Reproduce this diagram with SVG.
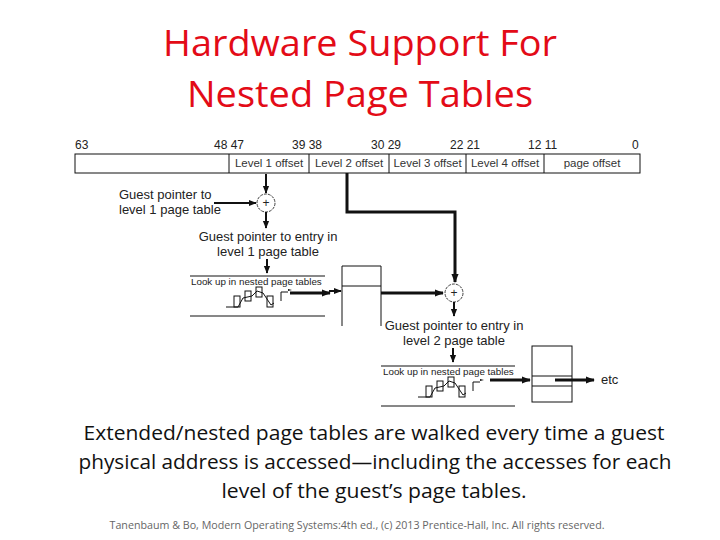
<svg xmlns="http://www.w3.org/2000/svg" width="720" height="540" viewBox="0 0 720 540">
<defs>
<style>
.title{font-family:"Open Sans","Liberation Sans",sans-serif;font-size:37px;fill:#e30b17;text-anchor:middle}
.body{font-family:"Open Sans","Liberation Sans",sans-serif;font-size:19.5px;fill:#111;text-anchor:middle}
.foot{font-family:"Open Sans","Liberation Sans",sans-serif;font-size:10.5px;fill:#666;text-anchor:middle}
.d{font-family:"Liberation Sans",Arial,sans-serif;font-size:13px;fill:#222}
.b{font-family:"Liberation Sans",Arial,sans-serif;font-size:12px;fill:#222}
.f{font-family:"Liberation Sans",Arial,sans-serif;font-size:11.5px;fill:#333;text-anchor:middle}
.s{font-family:"Liberation Sans",Arial,sans-serif;font-size:9.8px;fill:#222}
.ln{stroke:#111;stroke-width:1;fill:none}
.ar{stroke:#111;stroke-width:2;fill:none;marker-end:url(#ah)}
.thick{stroke:#111;stroke-width:3;fill:none}
.box{fill:#fff;stroke:#111;stroke-width:1}
</style>
<marker id="ah" viewBox="0 0 10 10" refX="9" refY="5" markerWidth="4" markerHeight="4" orient="auto" markerUnits="strokeWidth">
<path d="M0,1 L10,5 L0,9 z" fill="#111"/>
</marker>
<marker id="ah2" viewBox="0 0 10 10" refX="9" refY="5" markerWidth="3" markerHeight="3" orient="auto" markerUnits="strokeWidth">
<path d="M0,1 L10,5 L0,9 z" fill="#111"/>
</marker>
</defs>
<rect width="720" height="540" fill="#fff"/>

<g id="title">
<text class="title" x="360" y="56" textLength="394" lengthAdjust="spacingAndGlyphs">Hardware Support For</text>
<text class="title" x="360" y="107" textLength="346" lengthAdjust="spacingAndGlyphs">Nested Page Tables</text>
</g>

<g id="address">
<rect class="box" x="75" y="154" width="565" height="19"/>
<path class="ln" d="M229,154V173M309,154V173M389,154V173M466,154V173M544,154V173"/>
<text class="b" x="75" y="149">63</text>
<text class="b" x="214" y="149">48 47</text>
<text class="b" x="292" y="149">39 38</text>
<text class="b" x="371" y="149">30 29</text>
<text class="b" x="450" y="149">22 21</text>
<text class="b" x="528" y="149">12 11</text>
<text class="b" x="632" y="149">0</text>
<text class="f" x="269" y="167">Level 1 offset</text>
<text class="f" x="349" y="167">Level 2 offset</text>
<text class="f" x="427.5" y="167">Level 3 offset</text>
<text class="f" x="505" y="167">Level 4 offset</text>
<text class="f" x="592" y="167">page offset</text>
</g>

<g id="adder1">
<circle cx="266" cy="203" r="9" fill="#fff" stroke="#111" stroke-width="0.8" stroke-dasharray="3,1"/>
<text class="b" x="266" y="207" text-anchor="middle" font-size="11">+</text>
</g>
<g id="label1">
<text class="d" x="119" y="199">Guest pointer to</text>
<text class="d" x="119" y="214">level 1 page table</text>
<text class="d" x="268" y="241" text-anchor="middle">Guest pointer to entry in</text>
<text class="d" x="268" y="256" text-anchor="middle">level 1 page table</text>
</g>

<g id="lookup1">
<path class="ln" d="M190,276H325M190,316H325"/>
<text class="s" x="191" y="285">Look up in nested page tables</text>
<g class="ln" stroke-width="0.8">
<path d="M226,307H238L243,298L252,296L257,291L263,293L271,305L274,303M281,301V292H288"/>
<rect x="234" y="296" width="6" height="11"/>
<rect x="245" y="291" width="6" height="10"/>
<rect x="256" y="287" width="6" height="10"/>
<rect x="267" y="296" width="6" height="11"/>
</g>
<path d="M288,289L292,290L288,291z" fill="#111"/>
</g>

<g id="table1">
<path class="ln" d="M342,326V266H381V326M342,286H381"/>
</g>

<g id="adder2">
<circle cx="454" cy="293" r="9" fill="#fff" stroke="#111" stroke-width="0.8" stroke-dasharray="3,1"/>
<text class="b" x="454" y="297" text-anchor="middle" font-size="11">+</text>
</g>
<g id="label2">
<text class="d" x="454" y="330" text-anchor="middle">Guest pointer to entry in</text>
<text class="d" x="454" y="345" text-anchor="middle">level 2 page table</text>
</g>

<g id="lookup2">
<path class="ln" d="M381,366H515M381,406H515"/>
<text class="s" x="383" y="375">Look up in nested page tables</text>
<g class="ln" stroke-width="0.8">
<path d="M418,397H430L435,388L444,386L449,381L455,383L463,395L466,393M473,391V382H480"/>
<rect x="426" y="386" width="6" height="11"/>
<rect x="437" y="381" width="6" height="10"/>
<rect x="448" y="377" width="6" height="10"/>
<rect x="459" y="386" width="6" height="11"/>
</g>
<path d="M480,379L484,380L480,381z" fill="#111"/>
</g>

<g id="table2">
<rect class="box" x="532" y="346" width="40" height="56"/>
<path class="ln" d="M532,376H572M532,386H572"/>
<text class="d" x="601" y="384">etc</text>
</g>

<g id="connectors">
<path class="ar" d="M266,174V193"/>
<path class="ar" d="M214,203H256"/>
<path class="ar" d="M266,212V228"/>
<path class="ar" d="M267,259V273"/>
<path class="thick" d="M290,293H330" marker-end="url(#ah2)"/>
<path class="thick" d="M381,293H443" marker-end="url(#ah2)"/>
<path class="thick" d="M347,173V212H455V282" marker-end="url(#ah2)"/>
<path class="ar" d="M454,302V316"/>
<path class="ar" d="M453,348V362"/>
<path class="thick" d="M490,380H530" stroke-width="2.5" marker-end="url(#ah2)"/>
<path class="thick" d="M555,380H594" stroke-width="2.5" marker-end="url(#ah2)"/>
<path class="ar" d="M329,291H341" stroke-width="1.5"/>
</g>

<g id="caption">
<text class="body" x="374" y="440" textLength="581" lengthAdjust="spacingAndGlyphs">Extended/nested page tables are walked every time a guest</text>
<text class="body" x="375" y="469" textLength="593" lengthAdjust="spacingAndGlyphs">physical address is accessed—including the accesses for each</text>
<text class="body" x="374" y="498" textLength="305" lengthAdjust="spacingAndGlyphs">level of the guest’s page tables.</text>
<text class="foot" x="357" y="529" textLength="495" lengthAdjust="spacingAndGlyphs">Tanenbaum &amp; Bo, Modern  Operating Systems:4th ed., (c) 2013 Prentice-Hall, Inc. All rights reserved.</text>
</g>
</svg>
